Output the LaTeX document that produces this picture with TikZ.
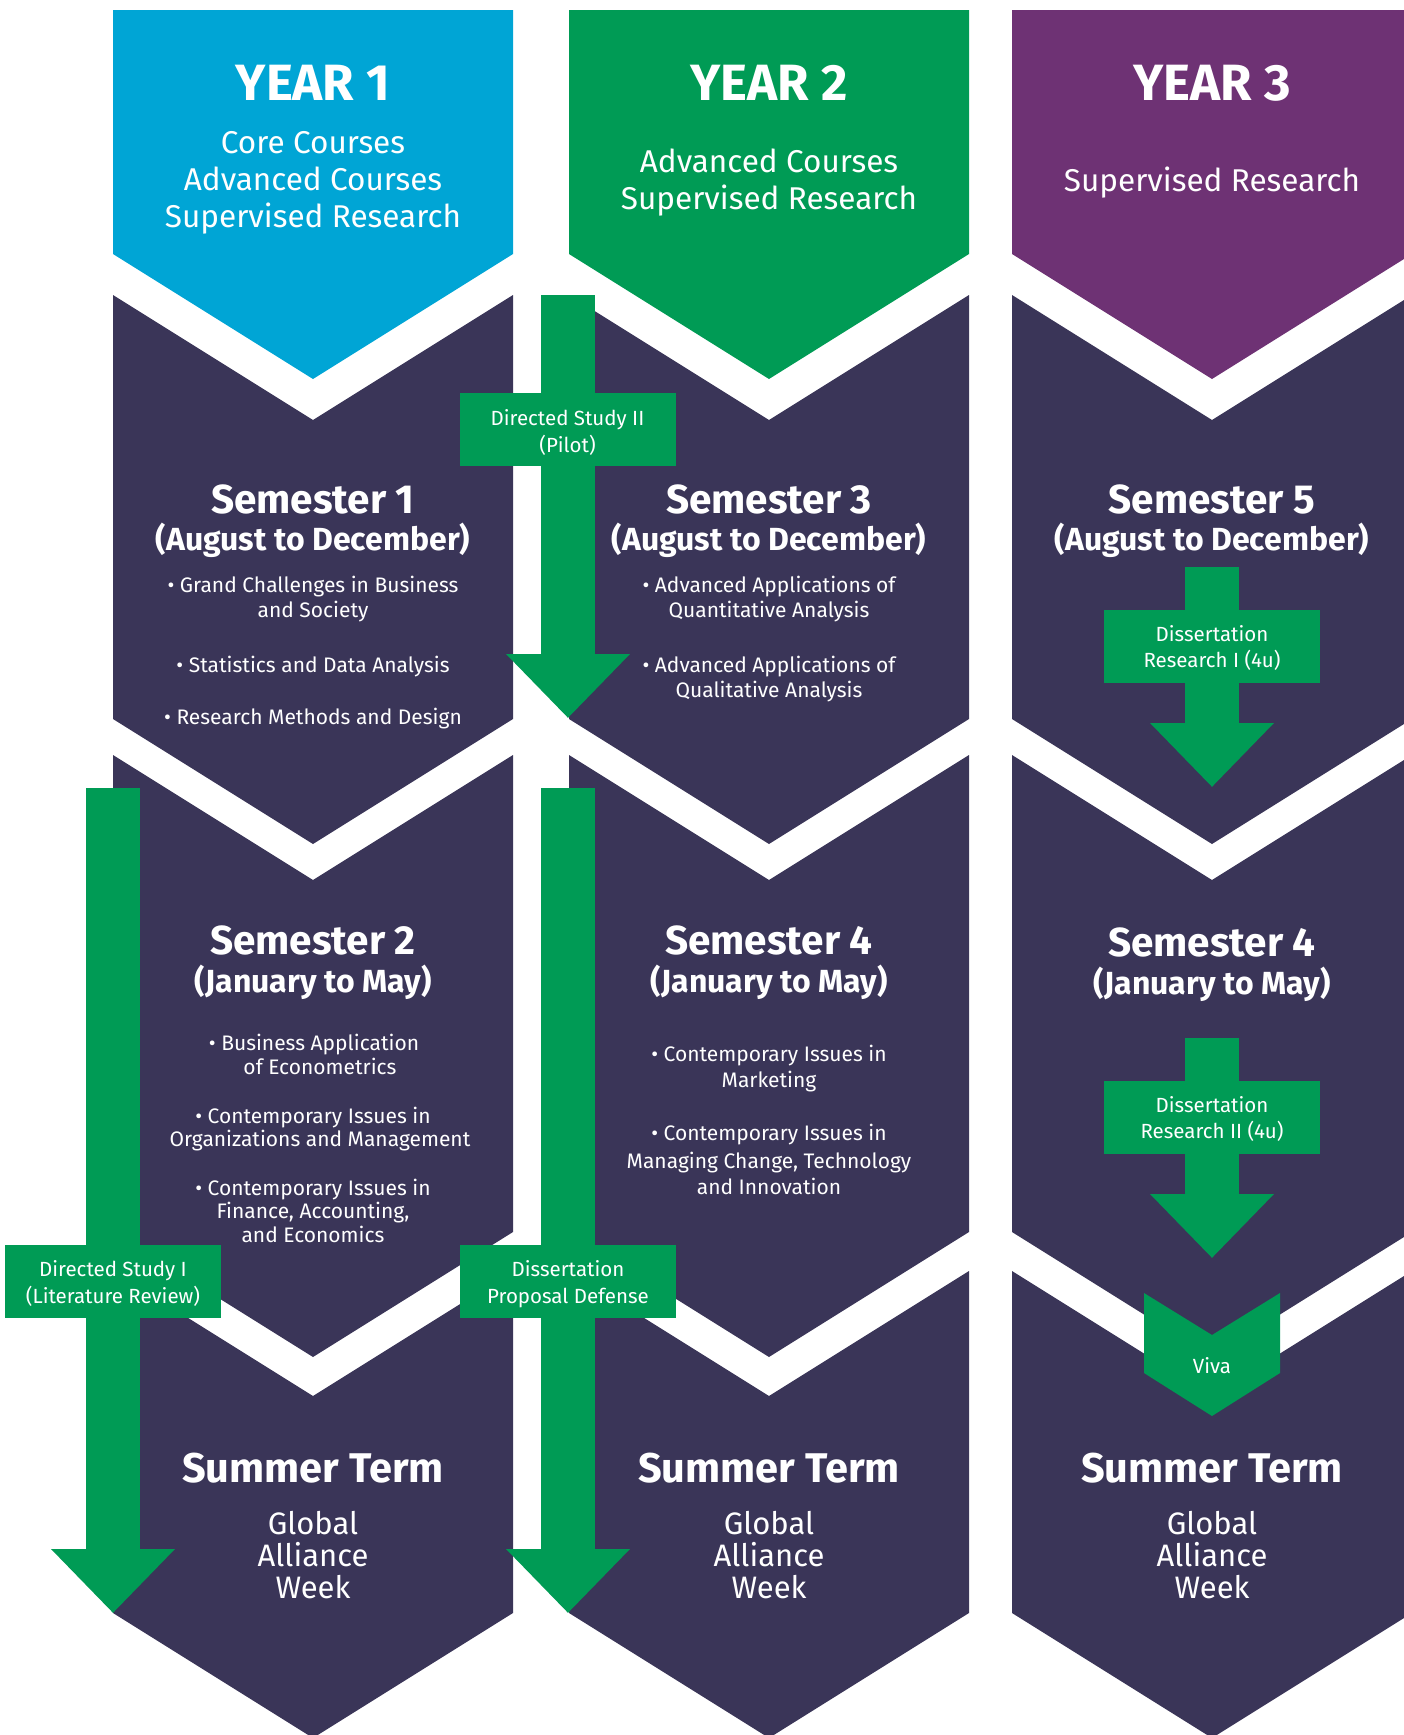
\documentclass[tikz,border=0pt]{standalone}
\usepackage{fontspec}
\setmainfont{Fira Sans}
\usetikzlibrary{arrows.meta}
\definecolor{yblue}{HTML}{00A5D5}
\definecolor{ygreen}{HTML}{009B55}
\definecolor{ypurple}{HTML}{6E3274}
\definecolor{navy}{HTML}{3A3558}
\definecolor{agreen}{HTML}{009B55}
\newcommand\tl[5]{\node[#1,anchor=base,inner sep=0pt,text=white] (#2) at (#3,#4) {#5};}
\newcommand\hdr[2]{\fill[#2] (#1,10) -- ++(400,0) -- ++(0,244) -- ++(-200,125) -- ++(-200,-125) -- cycle;}
\newcommand\blk[3]{\fill[navy] (#1,#2) -- ++(200,125) -- ++(200,-125) -- (#1+400,#3) -- ++(-200,125) -- ++(-200,-125) -- cycle;}
\begin{document}
\begin{tikzpicture}[x=1pt,y=-1pt,
  yeart/.style={font=\fontsize{51}{51}\selectfont\bfseries},
  ysub/.style={font=\fontsize{31.5}{31.5}\selectfont},
  semt/.style={font=\fontsize{40.5}{40.5}\selectfont\bfseries},
  semm/.style={font=\fontsize{32}{32}\selectfont\bfseries},
  sumt/.style={font=\fontsize{41.5}{41.5}\selectfont\bfseries},
  bul/.style={font=\fontsize{21}{21}\selectfont},
  boxt/.style={font=\fontsize{20.5}{20}\selectfont},
  gaw/.style={font=\fontsize{31}{31}\selectfont},
  gbox/.style={fill=agreen,minimum width=216pt,minimum height=73pt,inner sep=0pt},
  garrow/.style={draw=agreen,line width=54pt,-{Triangle[width=120pt,length=64pt]}}]
\useasboundingbox (0,0) rectangle (1404,1735);
\clip (0,0) rectangle (1404,1735);
% headers
\hdr{113}{yblue}
\hdr{569}{ygreen}
\hdr{1012}{ypurple}
% blocks
\foreach \L in {113,569,1012}{
  \blk{\L}{295}{719}
  \blk{\L}{755}{1232}
  \blk{\L}{1271}{1613}
}
% header texts
\tl{yeart}{y1}{313}{100}{YEAR 1}
\tl{ysub}{y1a}{313}{153}{Core Courses}
\tl{ysub}{y1b}{313}{190}{Advanced Courses}
\tl{ysub}{y1c}{313}{227}{Supervised Research}
\tl{yeart}{y2}{769}{100}{YEAR 2}
\tl{ysub}{y2a}{769}{172}{Advanced Courses}
\tl{ysub}{y2b}{769}{209}{Supervised Research}
\tl{yeart}{y3}{1212}{100}{YEAR 3}
\tl{ysub}{y3a}{1212}{191}{Supervised Research}
% semester 1
\tl{semt}{s1}{313}{513}{Semester 1}
\tl{semm}{s1m}{313}{550}{(August to December)}
\tl{bul}{s1a}{313}{592}{• Grand Challenges in Business}
\tl{bul}{s1b}{313}{617}{and Society}
\tl{bul}{s1c}{313}{672}{• Statistics and Data Analysis}
\tl{bul}{s1d}{313}{724}{• Research Methods and Design}
% semester 3
\tl{semt}{s3}{769}{513}{Semester 3}
\tl{semm}{s3m}{769}{550}{(August to December)}
\tl{bul}{s3a}{769}{592}{• Advanced Applications of}
\tl{bul}{s3b}{769}{617}{Quantitative Analysis}
\tl{bul}{s3c}{769}{672}{• Advanced Applications of}
\tl{bul}{s3d}{769}{697}{Qualitative Analysis}
% semester 5
\tl{semt}{s5}{1212}{513}{Semester 5}
\tl{semm}{s5m}{1212}{550}{(August to December)}
% semester 2
\tl{semt}{s2}{313}{954}{Semester 2}
\tl{semm}{s2m}{313}{992}{(January to May)}
\tl{bul}{s2a}{314}{1050}{• Business Application}
\tl{bul}{s2b}{320}{1074}{of Econometrics}
\tl{bul}{s2c}{313}{1123}{• Contemporary Issues in}
\tl{bul}{s2d}{320}{1146}{Organizations and Management}
\tl{bul}{s2e}{313}{1195}{• Contemporary Issues in}
\tl{bul}{s2f}{313}{1218}{Finance, Accounting,}
\tl{bul}{s2g}{313}{1242}{and Economics}
% semester 4 (col 2)
\tl{semt}{s4}{769}{954}{Semester 4}
\tl{semm}{s4m}{769}{992}{(January to May)}
\tl{bul}{s4a}{769}{1061}{• Contemporary Issues in}
\tl{bul}{s4b}{769}{1087}{Marketing}
\tl{bul}{s4c}{769}{1140}{• Contemporary Issues in}
\tl{bul}{s4d}{769}{1168}{Managing Change, Technology}
\tl{bul}{s4e}{769}{1194}{and Innovation}
% semester 4 (col 3)
\tl{semt}{s6}{1212}{956}{Semester 4}
\tl{semm}{s6m}{1212}{994}{(January to May)}
% summer terms
\foreach \C/\n in {313/a,769/b,1212/c}{
  \tl{sumt}{st\n}{\C}{1482}{Summer Term}
  \tl{gaw}{g1\n}{\C}{1534}{Global}
  \tl{gaw}{g2\n}{\C}{1566}{Alliance}
  \tl{gaw}{g3\n}{\C}{1598}{Week}
}
% green arrows
\coordinate (dsiiS) at (568,295);  \coordinate (dsiiT) at (568,718);
\coordinate (dsiS) at (113,788);   \coordinate (dsiT) at (113,1613);
\coordinate (dpdS) at (568,788);   \coordinate (dpdT) at (568,1613);
\coordinate (dr1S) at (1212,567);  \coordinate (dr1T) at (1212,787);
\coordinate (dr2S) at (1212,1038); \coordinate (dr2T) at (1212,1258);
\draw[garrow] (dsiiS) -- (dsiiT);
\draw[garrow] (dsiS) -- (dsiT);
\draw[garrow] (dpdS) -- (dpdT);
\draw[garrow] (dr1S) -- (dr1T);
\draw[garrow] (dr2S) -- (dr2T);
% boxes
\node[gbox] (dsii) at (567.5,429.5) {};
\node[gbox] (dsi) at (113,1281.5) {};
\node[gbox] (dpd) at (568,1281.5) {};
\node[gbox] (dr1) at (1212,646.5) {};
\node[gbox] (dr2) at (1212,1117.5) {};
\tl{boxt}{dsiia}{567.5}{425}{Directed Study II}
\tl{boxt}{dsiib}{567.5}{452}{(Pilot)}
\tl{boxt}{dsia}{113}{1276}{Directed Study I}
\tl{boxt}{dsib}{113}{1303}{(Literature Review)}
\tl{boxt}{dpda}{568}{1276}{Dissertation}
\tl{boxt}{dpdb}{568}{1303}{Proposal Defense}
\tl{boxt}{dr1a}{1212}{641}{Dissertation}
\tl{boxt}{dr1b}{1212}{667}{Research I (4u)}
\tl{boxt}{dr2a}{1212}{1112}{Dissertation}
\tl{boxt}{dr2b}{1212}{1138}{Research II (4u)}
% viva chevron
\fill[agreen] (1144,1293) -- (1212,1335) -- (1280,1293) -- (1280,1373) -- (1212,1416) -- (1144,1373) -- cycle;
\tl{boxt}{viva}{1212}{1373}{Viva}
\end{tikzpicture}
\end{document}
